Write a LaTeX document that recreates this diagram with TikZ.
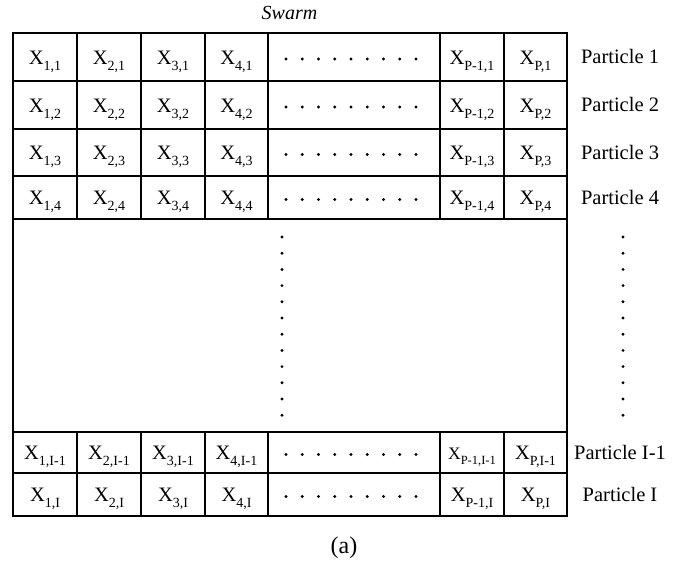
\documentclass[tikz,border=0pt]{standalone}
\usepackage{fontspec}
\setmainfont{Liberation Serif}
\newcommand{\xsub}[2]{X\raisebox{-0.3em}{\fontsize{14}{14}\selectfont #1,#2}}
\newcommand{\xsubs}[2]{{\fontsize{17.5}{17.5}\selectfont X\raisebox{-0.3em}{\fontsize{12.5}{12.5}\selectfont #1,#2}}}
\tikzset{
  cell/.style={draw, line width=1.9pt, inner sep=0pt, outer sep=0pt},
  lbl/.style={anchor=base, inner sep=0pt, font=\fontsize{20.5}{20.5}\selectfont},
  plbl/.style={anchor=base, inner sep=0pt, font=\fontsize{20.5}{20.5}\selectfont},
  dotmark/.style={fill=black},
}
\begin{document}
\begin{tikzpicture}[x=1pt,y=1pt]
\useasboundingbox (0,0) rectangle (685,-565);
% rows: top, bottom
\foreach \rt/\rb/\rn in {33/81/1, 81/129/2, 129/176/3, 176/219/4, 432/473/5, 473/516/6}{
  \foreach \cl/\cr/\cn in {13/77/1, 77/141/2, 141/205/3, 205/268/4, 268/440/5, 440/504/6, 504/567/7}{
    \path (\cl,-\rt) coordinate (tl-\rn-\cn) (\cr,-\rb) coordinate (br-\rn-\cn);
    \draw[cell] (tl-\rn-\cn) rectangle (br-\rn-\cn);
  }
}
% big middle box
\coordinate (midtl) at (13,-219);
\coordinate (midbr) at (567,-432);
\draw[cell] (midtl) rectangle (midbr);

% title
\node[lbl, font=\fontsize{20}{20}\selectfont\itshape] (swarm) at (289.5,-19) {Swarm};

% row 1-4 labels
\foreach \r/\y in {1/64, 2/112, 3/159.5, 4/204.5}{
  \node[lbl] (x1-\r) at (45,-\y) {\xsub{1}{\r}};
  \node[lbl] (x2-\r) at (109,-\y) {\xsub{2}{\r}};
  \node[lbl] (x3-\r) at (173,-\y) {\xsub{3}{\r}};
  \node[lbl] (x4-\r) at (236.5,-\y) {\xsub{4}{\r}};
  \node[lbl] (xq-\r) at (472,-\y) {\xsub{P-1}{\r}};
  \node[lbl] (xp-\r) at (535.5,-\y) {\xsub{P}{\r}};
  \node[plbl] (part-\r) at (620,-\y+0.5) {Particle \r};
  \foreach \k in {0,...,8}{
    \fill[dotmark] (286+\k*16.25,-\y+5) circle (1.6);
  }
}
% row I-1
\node[lbl] (x1-m) at (45,-459.5) {\xsub{1}{I-1}};
\node[lbl] (x2-m) at (109,-459.5) {\xsub{2}{I-1}};
\node[lbl] (x3-m) at (173,-459.5) {\xsub{3}{I-1}};
\node[lbl] (x4-m) at (236.5,-459.5) {\xsub{4}{I-1}};
\node[lbl] (xq-m) at (472,-459.5) {\xsubs{P-1}{I-1}};
\node[lbl] (xp-m) at (535.5,-459.5) {\xsub{P}{I-1}};
\node[plbl] (part-m) at (620,-459) {Particle I-1};
% row I
\node[lbl] (x1-i) at (45,-501.5) {\xsub{1}{I}};
\node[lbl] (x2-i) at (109,-501.5) {\xsub{2}{I}};
\node[lbl] (x3-i) at (173,-501.5) {\xsub{3}{I}};
\node[lbl] (x4-i) at (236.5,-501.5) {\xsub{4}{I}};
\node[lbl] (xq-i) at (472,-501.5) {\xsub{P-1}{I}};
\node[lbl] (xp-i) at (535.5,-501.5) {\xsub{P}{I}};
\node[plbl] (part-i) at (620,-501) {Particle I};
\foreach \y in {459.5, 501.5}{
  \foreach \k in {0,...,8}{
    \fill[dotmark] (286+\k*16.25,-\y+5) circle (1.6);
  }
}
% vertical dots
\foreach \k in {0,...,11}{
  \fill[dotmark] (282,-237-\k*16.2) circle (1.6);
  \fill[dotmark] (623,-237-\k*16.2) circle (1.6);
}
% caption
\node[lbl, font=\fontsize{24}{24}\selectfont] (cap) at (344,-553) {(a)};
\end{tikzpicture}
\end{document}
